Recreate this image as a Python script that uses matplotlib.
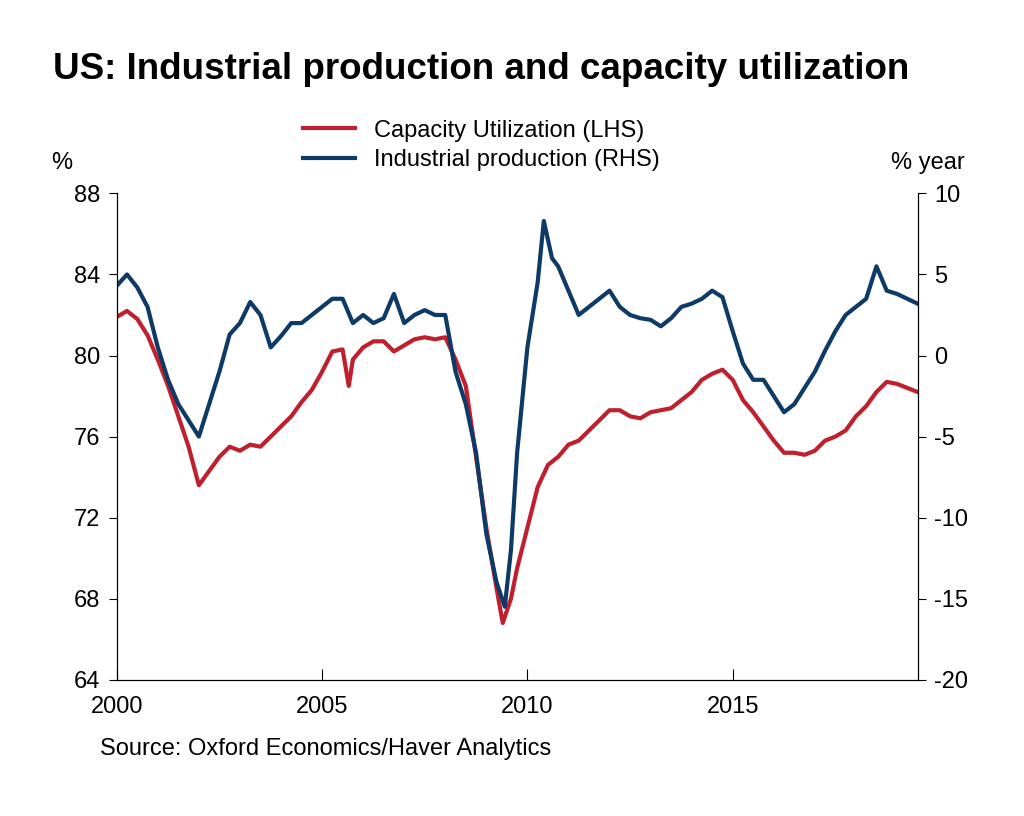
import numpy as np
import matplotlib.pyplot as plt
from matplotlib.lines import Line2D

plt.rcParams["font.family"] = ["Liberation Sans", "DejaVu Sans"]
plt.rcParams["axes.unicode_minus"] = False

# capacity utilization, % (LHS)
cu_t = [2000.0, 2000.25, 2000.5, 2000.75, 2001.0, 2001.25, 2001.5, 2001.75, 2002.0, 2002.25,
        2002.5, 2002.75, 2003.0, 2003.25, 2003.5, 2003.75, 2004.0, 2004.25, 2004.5, 2004.75,
        2005.0, 2005.25, 2005.5, 2005.65, 2005.75, 2006.0, 2006.25, 2006.5, 2006.75, 2007.0,
        2007.25, 2007.5, 2007.75, 2008.0, 2008.25, 2008.5, 2008.75, 2009.0, 2009.25, 2009.4,
        2009.6, 2009.75, 2010.0, 2010.25, 2010.5, 2010.75, 2011.0, 2011.25, 2011.5, 2011.75,
        2012.0, 2012.25, 2012.5, 2012.75, 2013.0, 2013.25, 2013.5, 2013.75, 2014.0, 2014.25,
        2014.5, 2014.75, 2015.0, 2015.25, 2015.5, 2015.75, 2016.0, 2016.25, 2016.5, 2016.75,
        2017.0, 2017.25, 2017.5, 2017.75, 2018.0, 2018.25, 2018.5, 2018.75, 2019.0, 2019.25, 2019.5]
cu = [81.9, 82.2, 81.8, 81.0, 79.8, 78.5, 77.0, 75.5, 73.6, 74.3,
      75.0, 75.5, 75.3, 75.6, 75.5, 76.0, 76.5, 77.0, 77.7, 78.3,
      79.2, 80.2, 80.3, 78.5, 79.8, 80.4, 80.7, 80.7, 80.2, 80.5,
      80.8, 80.9, 80.8, 80.9, 79.8, 78.5, 75.0, 71.5, 68.5, 66.8,
      68.0, 69.5, 71.5, 73.5, 74.6, 75.0, 75.6, 75.8, 76.3, 76.8,
      77.3, 77.3, 77.0, 76.9, 77.2, 77.3, 77.4, 77.8, 78.2, 78.8,
      79.1, 79.3, 78.8, 77.8, 77.2, 76.5, 75.8, 75.2, 75.2, 75.1,
      75.3, 75.8, 76.0, 76.3, 77.0, 77.5, 78.2, 78.7, 78.6, 78.4, 78.2]

# industrial production, % year (RHS)
ip_t = [2000.0, 2000.25, 2000.5, 2000.75, 2001.0, 2001.25, 2001.5, 2001.75, 2002.0, 2002.25,
        2002.5, 2002.75, 2003.0, 2003.25, 2003.5, 2003.75, 2004.0, 2004.25, 2004.5, 2004.75,
        2005.0, 2005.25, 2005.5, 2005.75, 2006.0, 2006.25, 2006.5, 2006.75, 2007.0, 2007.25,
        2007.5, 2007.75, 2008.0, 2008.25, 2008.5, 2008.75, 2009.0, 2009.25, 2009.45, 2009.6,
        2009.75, 2010.0, 2010.25, 2010.4, 2010.6, 2010.75, 2011.0, 2011.25, 2011.5, 2011.75,
        2012.0, 2012.25, 2012.5, 2012.75, 2013.0, 2013.25, 2013.5, 2013.75, 2014.0, 2014.25,
        2014.5, 2014.75, 2015.0, 2015.25, 2015.5, 2015.75, 2016.0, 2016.25, 2016.5, 2016.75,
        2017.0, 2017.25, 2017.5, 2017.75, 2018.0, 2018.25, 2018.5, 2018.75, 2019.0, 2019.25, 2019.5]
ip = [4.3, 5.0, 4.2, 3.0, 0.5, -1.5, -3.0, -4.0, -5.0, -3.0,
      -1.0, 1.3, 2.0, 3.3, 2.5, 0.5, 1.2, 2.0, 2.0, 2.5,
      3.0, 3.5, 3.5, 2.0, 2.5, 2.0, 2.3, 3.8, 2.0, 2.5,
      2.8, 2.5, 2.5, -1.0, -3.0, -6.0, -11.0, -14.0, -15.5, -12.0,
      -6.0, 0.5, 4.5, 8.3, 6.0, 5.5, 4.0, 2.5, 3.0, 3.5,
      4.0, 3.0, 2.5, 2.3, 2.2, 1.8, 2.3, 3.0, 3.2, 3.5,
      4.0, 3.6, 1.5, -0.5, -1.5, -1.5, -2.5, -3.5, -3.0, -2.0,
      -1.0, 0.3, 1.5, 2.5, 3.0, 3.5, 5.5, 4.0, 3.8, 3.5, 3.2]

red = "#c0202e"
navy = "#0d3a66"

fig = plt.figure(figsize=(10.24, 8.16), dpi=100)
ax = fig.add_axes([0.114, 0.167, 0.782, 0.596])
ax2 = ax.twinx()

ax.plot(cu_t, cu, color=red, lw=3)
ax2.plot(ip_t, ip, color=navy, lw=3)

ax.set_xlim(2000, 2019.5)
ax.set_ylim(64, 88)
ax2.set_ylim(-20, 10)
ax.set_yticks(range(64, 89, 4))
ax2.set_yticks(range(-20, 11, 5))
ax.set_xticks([2000, 2005, 2010, 2015])
ax.tick_params(axis="x", direction="in", length=8, labelsize=17, pad=12)
ax.tick_params(axis="y", direction="out", length=6, labelsize=17, pad=6)
ax2.tick_params(axis="y", direction="out", length=6, labelsize=17, pad=6)
for a in (ax, ax2):
    a.spines["top"].set_visible(False)

fig.text(0.052, 0.915, "US: Industrial production and capacity utilization",
         fontsize=26.5, fontweight="bold", va="center")
fig.text(0.05, 0.8, "%", fontsize=17, va="center")
fig.text(0.942, 0.8, "% year", fontsize=17, va="center", ha="right")
fig.text(0.098, 0.082, "Source: Oxford Economics/Haver Analytics", fontsize=17, va="center")

handles = [Line2D([], [], color=red, lw=3), Line2D([], [], color=navy, lw=3)]
fig.legend(handles, ["Capacity Utilization (LHS)", "Industrial production (RHS)"],
           loc="center", bbox_to_anchor=(0.47, 0.822), frameon=False, fontsize=17,
           handlelength=2.2, labelspacing=0.3)

fig.savefig("out.png", dpi=100)
